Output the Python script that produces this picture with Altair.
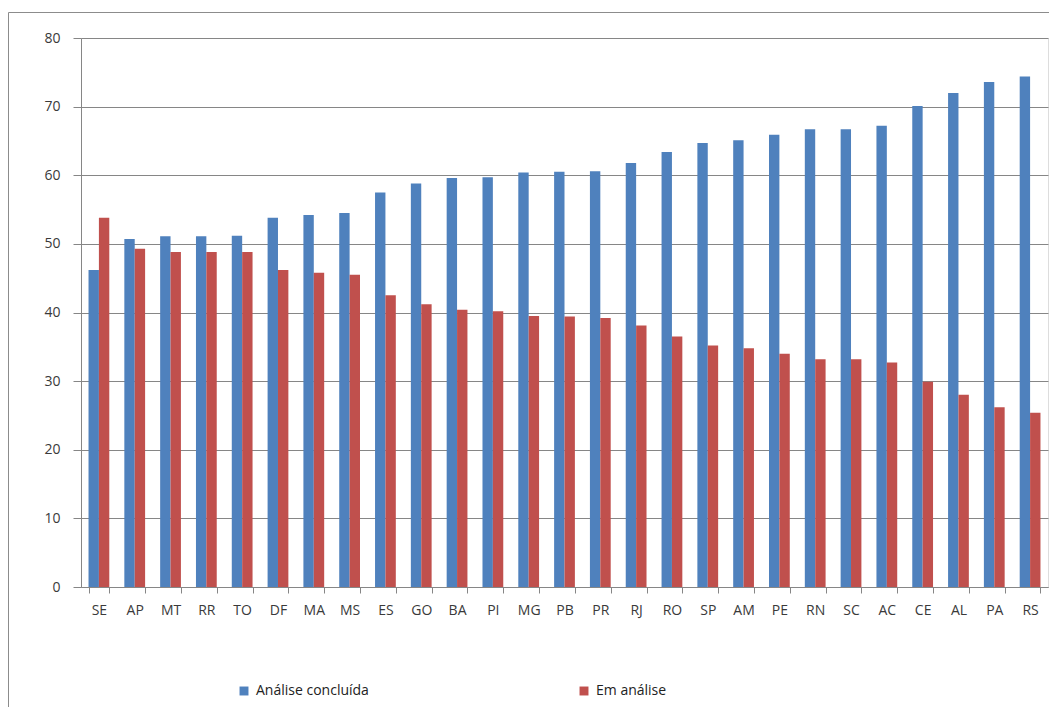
import altair as alt
import pandas as pd

ufs = ["SE", "AP", "MT", "RR", "TO", "DF", "MA", "MS", "ES", "GO", "BA", "PI", "MG", "PB",
       "PR", "RJ", "RO", "SP", "AM", "PE", "RN", "SC", "AC", "CE", "AL", "PA", "RS"]
concluida = [46.2, 50.7, 51.1, 51.1, 51.2, 53.8, 54.2, 54.5, 57.5, 58.8, 59.6, 59.7, 60.4, 60.5,
             60.6, 61.8, 63.4, 64.7, 65.1, 65.9, 66.7, 66.7, 67.2, 70.1, 72.0, 73.6, 74.4]
em_analise = [53.8, 49.3, 48.8, 48.8, 48.8, 46.2, 45.8, 45.5, 42.5, 41.2, 40.4, 40.2, 39.5, 39.4,
              39.2, 38.1, 36.5, 35.2, 34.8, 34.0, 33.2, 33.2, 32.7, 29.9, 28.0, 26.2, 25.4]
series = ["Análise concluída", "Em análise"]
colors = ["#4F81BD", "#C0504D"]

rows = []
for i, uf in enumerate(ufs):
    rows.append({"UF": uf, "Situação": series[0], "Valor": concluida[i]})
    rows.append({"UF": uf, "Situação": series[1], "Valor": em_analise[i]})
df = pd.DataFrame(rows)

FONT = "Open Sans"
W, H = 967, 549

bars = alt.Chart(df).mark_bar().encode(
    x=alt.X("UF:N", sort=ufs, title=None,
            scale=alt.Scale(paddingInner=0.42, paddingOuter=0.21),
            axis=alt.Axis(labelAngle=0, tickBand="extent", tickSize=6,
                          labelPadding=10, labelFontSize=14, labelColor="#3a3a3a",
                          labelFont=FONT, domainColor="#868686", tickColor="#868686",
                          grid=False)),
    xOffset=alt.XOffset("Situação:N", sort=series),
    y=alt.Y("Valor:Q", title=None,
            scale=alt.Scale(domain=[0, 80], nice=False),
            axis=alt.Axis(values=list(range(0, 81, 10)), tickSize=8, labelPadding=13,
                          labelFontSize=14, labelColor="#3a3a3a", labelFont=FONT,
                          domainColor="#868686", tickColor="#868686",
                          grid=True, gridColor="#868686", gridWidth=1)),
    color=alt.Color("Situação:N", sort=series,
                    scale=alt.Scale(domain=series, range=colors),
                    legend=alt.Legend(title=None, orient="none", direction="horizontal",
                                      legendX=156, legendY=646, symbolType="square",
                                      symbolSize=80, symbolStrokeWidth=0, labelFontSize=14,
                                      labelFont=FONT, labelColor="#222222", labelLimit=400,
                                      columnPadding=208, symbolOffset=0, labelOffset=5)),
)

one = pd.DataFrame({"a": [0]})
frame_top = alt.Chart(one).mark_rule(color="#8c8c8c", strokeWidth=1).encode(
    x=alt.value(-72.5), x2=alt.value(968), y=alt.value(-25.5))
frame_left = alt.Chart(one).mark_rule(color="#8c8c8c", strokeWidth=1).encode(
    x=alt.value(-72.5), y=alt.value(-25.5), y2=alt.value(670))

chart = alt.layer(frame_top, frame_left, bars).properties(
    width=W, height=H,
    autosize=alt.AutoSizeParams(type="none"),
    padding={"left": 73, "top": 30, "right": 1, "bottom": 120},
).configure_view(strokeWidth=0, stroke="transparent").configure(background="white")

chart.save("out.html", embed_options={"renderer": "svg", "actions": False})
